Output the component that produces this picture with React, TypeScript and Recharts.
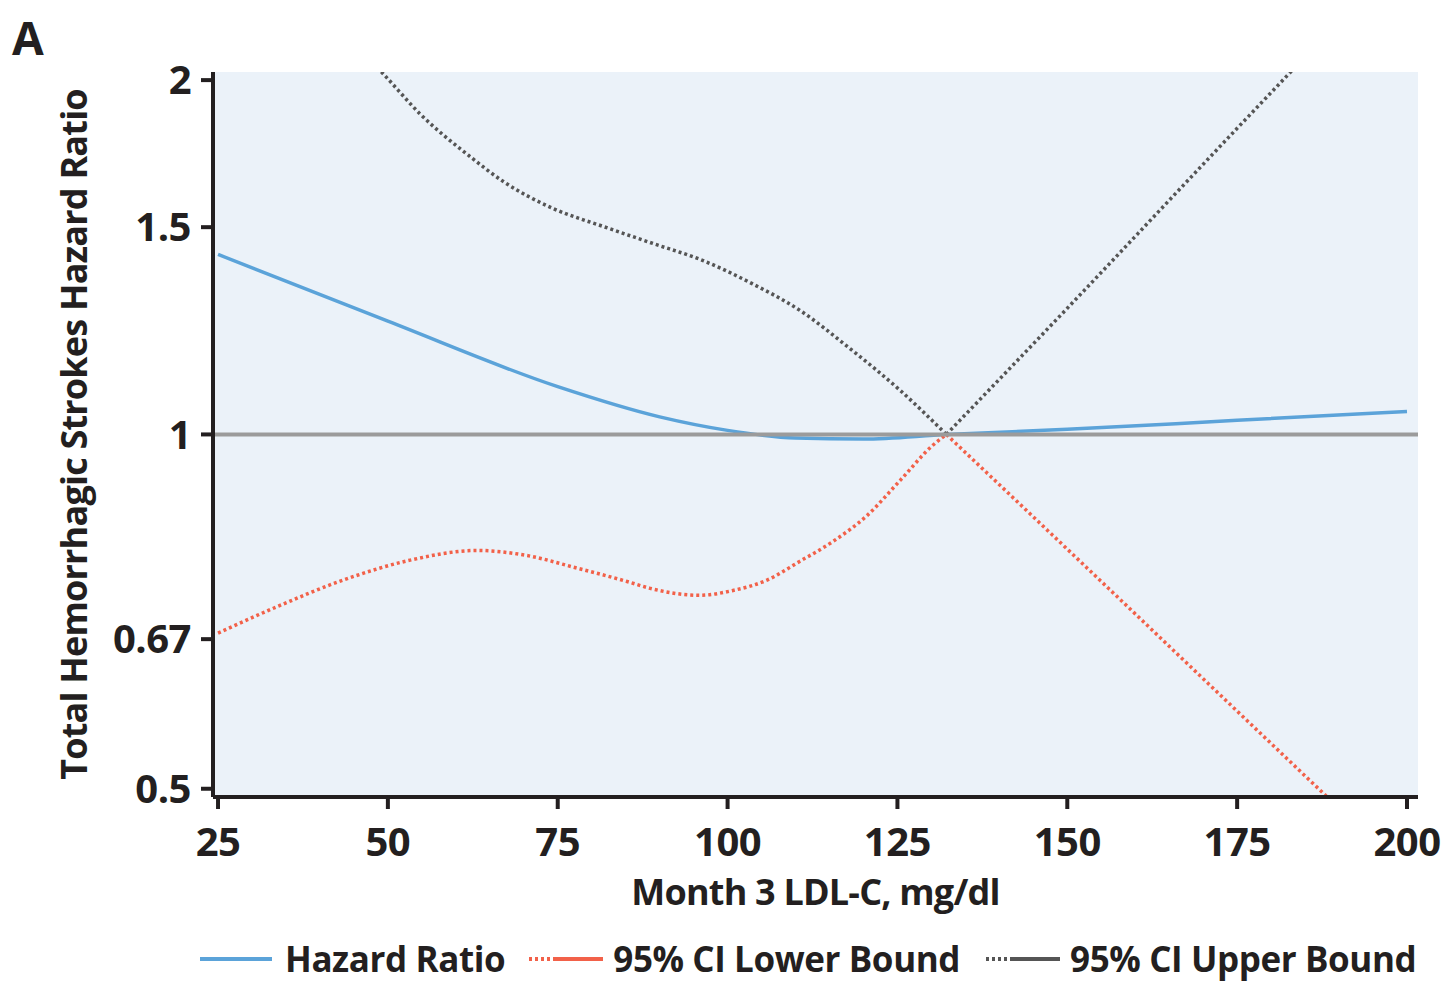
import React from "react";
import { LineChart, Line, XAxis, YAxis, CartesianGrid, ReferenceLine, Label } from "recharts";

// ---- data ----
const xTicks = [25, 50, 75, 100, 125, 150, 175, 200];
const yTicks = [0.5, 0.67, 1, 1.5, 2];

const hrLDL = [25, 50, 75, 90, 100, 110, 120, 132.2, 150, 175, 200];
const hrValues = [1.422, 1.248, 1.098, 1.035, 1.008, 0.993, 0.991, 1.0, 1.01, 1.028, 1.046];

const lowerLDL = [25, 33.7, 43.4, 53.3, 63.1, 70.5, 77.8, 85.2, 88.6, 95.9, 100.8, 105.8, 110.6, 115.5, 120.5, 125.4, 130.2, 132.2, 150, 175, 200];
const lowerValues = [0.678, 0.714, 0.752, 0.782, 0.797, 0.789, 0.77, 0.75, 0.74, 0.73, 0.737, 0.752, 0.78, 0.811, 0.853, 0.914, 0.979, 1.0, 0.799, 0.582, 0.424];

const upperLDL = [25, 35, 42, 49.3, 54.7, 62.1, 67.0, 74.3, 81.7, 89.0, 96.4, 103.3, 110.7, 118.0, 125.4, 132.2, 150, 175, 200];
const upperValues = [3.0, 2.5, 2.23, 2.025, 1.873, 1.722, 1.64, 1.556, 1.502, 1.453, 1.405, 1.346, 1.274, 1.183, 1.09, 1.0, 1.28, 1.82, 2.58];

const knotLDL = 132.2;

const seriesNames = ["Hazard Ratio", "95% CI Lower Bound", "95% CI Upper Bound"];

const toPoints = (xs: number[], ys: number[]) => xs.map((x, i) => ({ ldl: x, hr: ys[i] }));
const hrData = toPoints(hrLDL, hrValues);
const lowerData = toPoints(lowerLDL, lowerValues);
const upperData = toPoints(upperLDL, upperValues);
const leftOf = (d: { ldl: number }[]) => d.filter((p) => p.ldl <= knotLDL);
const rightOf = (d: { ldl: number }[]) => d.filter((p) => p.ldl >= knotLDL);

// ---- styles ----
const FONT = "'Open Sans', sans-serif";
const INK = "#231f20";
const BLUE = "#5ba3d9";
const RED = "#f26149";
const GRAY = "#555555";

const tickStyle = { fontFamily: FONT, fontSize: 40, fontWeight: 700, fill: INK, letterSpacing: -0.5 };
const labelStyle = { fontFamily: FONT, fontSize: 36, fontWeight: 700, fill: INK, letterSpacing: -0.8 };

const LegendIcon = ({ color, dotted }: { color: string; dotted: boolean }) => (
  <svg width={76} height={10} style={{ display: "block" }}>
    {dotted ? (
      <>
        <line x1={2} y1={5} x2={24} y2={5} stroke={color} strokeWidth={4} strokeDasharray="3 3" />
        <line x1={26} y1={5} x2={76} y2={5} stroke={color} strokeWidth={4} />
      </>
    ) : (
      <line x1={2} y1={5} x2={74} y2={5} stroke={color} strokeWidth={4} />
    )}
  </svg>
);

export default function App() {
  const common = { dataKey: "hr", isAnimationActive: false, dot: false, activeDot: false, type: "monotone" as const };
  return (
    <div style={{ position: "absolute", left: 0, top: 0, width: 1446, height: 983, background: "#fff" }}>
      <div style={{ position: "absolute", left: 12, top: 6, fontFamily: FONT, fontWeight: 700, fontSize: 46, lineHeight: "normal", color: INK }}>A</div>
      <LineChart width={1446} height={983} margin={{ top: 72, right: 28, bottom: 0, left: 0 }}>
        <CartesianGrid horizontal={false} vertical={false} fill="#ebf2f9" stroke="none" />
        <XAxis
          dataKey="ldl"
          type="number"
          domain={[24.26, 201.62]}
          ticks={xTicks}
          allowDataOverflow
          height={186}
          stroke={INK}
          strokeWidth={4}
          tickSize={12}
          tick={{ ...tickStyle, dy: 17 }}
          tickLine={{ stroke: INK, strokeWidth: 4 }}
        >
          <Label value="Month 3 LDL-C, mg/dl" position="insideTop" offset={82} style={labelStyle} />
        </XAxis>
        <YAxis
          type="number"
          scale="log"
          domain={[0.492, 2.032]}
          ticks={yTicks}
          allowDataOverflow
          width={213}
          stroke={INK}
          strokeWidth={4}
          tickSize={12}
          tick={{ ...tickStyle, dx: -8 }}
          tickLine={{ stroke: INK, strokeWidth: 4 }}
        >
          <Label
            value="Total Hemorrhagic Strokes Hazard Ratio"
            angle={-90}
            position="insideLeft"
            offset={74}
            style={{ ...labelStyle, textAnchor: "middle" }}
          />
        </YAxis>
        <Line {...common} data={hrData} stroke={BLUE} strokeWidth={3.5} name={seriesNames[0]} />
        <Line {...common} data={leftOf(lowerData)} stroke={RED} strokeWidth={3.5} strokeDasharray="3 3" name={seriesNames[1]} />
        <Line {...common} data={rightOf(lowerData)} stroke={RED} strokeWidth={3.5} strokeDasharray="3 3" name={seriesNames[1]} legendType="none" />
        <Line {...common} data={leftOf(upperData)} stroke={GRAY} strokeWidth={3.5} strokeDasharray="3 3" name={seriesNames[2]} />
        <Line {...common} data={rightOf(upperData)} stroke={GRAY} strokeWidth={3.5} strokeDasharray="3 3" name={seriesNames[2]} legendType="none" />
        <ReferenceLine y={1} stroke="#9b9b9b" strokeWidth={4} />
      </LineChart>
      <div
        style={{
          position: "absolute",
          left: 198,
          top: 935,
          display: "flex",
          alignItems: "center",
          fontFamily: FONT,
          fontWeight: 700,
          fontSize: 35,
          lineHeight: "normal",
          letterSpacing: -0.4,
          color: INK,
          whiteSpace: "nowrap",
        }}
      >
        <LegendIcon color={BLUE} dotted={false} />
        <span style={{ marginLeft: 11, marginRight: 22 }}>{seriesNames[0]}</span>
        <LegendIcon color={RED} dotted />
        <span style={{ marginLeft: 10, marginRight: 24 }}>{seriesNames[1]}</span>
        <LegendIcon color={GRAY} dotted />
        <span style={{ marginLeft: 10 }}>{seriesNames[2]}</span>
      </div>
    </div>
  );
}
